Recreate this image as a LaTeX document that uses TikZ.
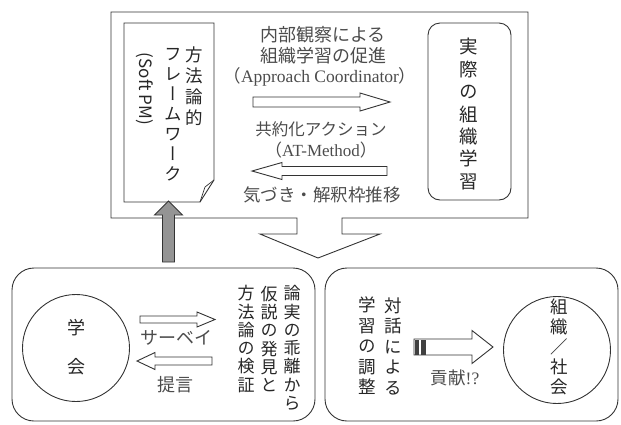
\documentclass[tikz,border=0pt]{standalone}
\usepackage{fontspec}
\usepackage{graphicx}
\setmainfont{Liberation Serif}
\newfontfamily\jp{Noto Sans CJK JP}
\newfontfamily\jpv[RawFeature=+vert]{Noto Sans CJK JP}
\newcommand\HBlkArrow[7]{% style, tail x, base x, tip x, cy, shaft half, head half
  \draw[#1] (#2,#5-#6) -- (#3,#5-#6) -- (#3,#5-#7) -- (#4,#5) -- (#3,#5+#7) -- (#3,#5+#6) -- (#2,#5+#6) -- cycle;}
\begin{document}
\begin{tikzpicture}[x=1pt,y=-1pt,
  box/.style={draw=black!80, line width=0.9pt},
  blk/.style={draw=black!80, fill=white, line width=0.9pt},
  vcol/.style={font=\jpv\fontsize{17.5}{#1}\selectfont, align=center, inner sep=0pt, text=black!85},
  hlab/.style={font=\jp\fontsize{#1}{21}\selectfont, inner sep=0pt, text=black!70},
  vcol/.default=20, hlab/.default=18]
\useasboundingbox (0,0) rectangle (621,424);

% top box with notch arrow
\draw[box] (111,12) -- (528,12) -- (528,218) -- (342,218) -- (342,234) -- (380,234)
  -- (318,258) -- (260,234) -- (297,234) -- (297,218) -- (111,218) -- cycle;

% framework document
\draw[box] (124,23) -- (214,23) -- (214,180) -- (200,202) -- (124,202) -- cycle;
\draw[box, line width=0.7pt] (214,180) -- (205,187) -- (200,202);
\node[vcol=21] (fw1) at (194,86.5) {方\\法\\論\\的};
\node[vcol=20] (fw2) at (173,115) {フ\\レ\\ー\\ム\\ワ\\ー\\ク};
\node[rotate=-90, inner sep=0pt, font=\jp\fontsize{17}{20}\selectfont, text=black!85] (fw3) at (145,89) {(Soft PM)};

% actual organisational learning
\node[box, rounded corners=12pt, minimum width=83pt, minimum height=177pt, inner sep=0pt] (actual) at (469.5,111.5) {};
\node[vcol=22.4, font=\jpv\fontsize{18.5}{22.4}\selectfont] (actualt) at (469,114) {実\\際\\の\\組\\織\\学\\習};

% upper labels
\node[hlab] (l1) at (323,35) {内部観察による};
\node[hlab] (l2) at (323,56) {組織学習の促進};
\node[hlab=17.5] (l3) at (320,77) {（{\rmfamily Approach Coordinator}）};
\HBlkArrow{blk}{253}{360}{390}{102}{5}{9}
\node[hlab=16.5] (l4) at (321,129) {共約化アクション};
\node[hlab=17] (l5) at (321,150) {（{\rmfamily AT-Method}）};
\HBlkArrow{blk}{387}{282}{252}{171}{4.5}{8.5}
\node[hlab=17.5] (l6) at (322,195) {気づき・解釈枠推移};

% gray up arrow
\draw[draw=black!80, fill=black!42, line width=0.9pt]
  (162.5,262) -- (162.5,215) -- (154.5,215) -- (168.5,201) -- (182.5,215) -- (174.5,215) -- (174.5,262) -- cycle;

% bottom boxes
\draw[box, rounded corners=22pt] (12,268) rectangle (315,421);
\draw[box, rounded corners=22pt] (325,268) rectangle (618,421);

% bottom left
\node[box, circle, minimum size=107pt, inner sep=0pt] (gakkai) at (76,348) {};
\node[vcol=39, font=\jpv\fontsize{18}{39}\selectfont] (gakkait) at (76,347.5) {学\\会};
\HBlkArrow{blk}{140}{197}{215}{319.5}{3.5}{7.5}
\node[hlab] (survey) at (176,338) {サーベイ};
\HBlkArrow{blk}{212}{155}{137}{361}{4}{8.5}
\node[hlab] (teigen) at (175,385) {提言};
\node[vcol=18.3, font=\jpv\fontsize{17}{18.3}\selectfont] (c1) at (292,348) {論\\実\\の\\乖\\離\\か\\ら};
\node[vcol=18.3, font=\jpv\fontsize{17}{18.3}\selectfont] (c2) at (269,339) {仮\\説\\の\\発\\見\\と};
\node[vcol=18.3, font=\jpv\fontsize{17}{18.3}\selectfont] (c3) at (246,339) {方\\法\\論\\の\\検\\証};

% bottom right
\node[vcol=20.5] (d1) at (393,346) {対\\話\\に\\よ\\る};
\node[vcol=20.5] (d2) at (367,346) {学\\習\\の\\調\\整};
\HBlkArrow{blk}{414}{472}{493}{347}{8}{16.5}
\fill[black!75] (415,339.5) rectangle (419,354.5);
\fill[black!75] (421,339.5) rectangle (425.5,354.5);
\node[hlab=17.5] (kouken) at (455,378) {貢献{\rmfamily !?}};
\node[box, circle, minimum size=107pt, inner sep=0pt] (society) at (557,350) {};
\node[vcol=20] (societyt) at (559,347) {組\\織\\{\jp ／}\\社\\会};
\end{tikzpicture}
\end{document}
